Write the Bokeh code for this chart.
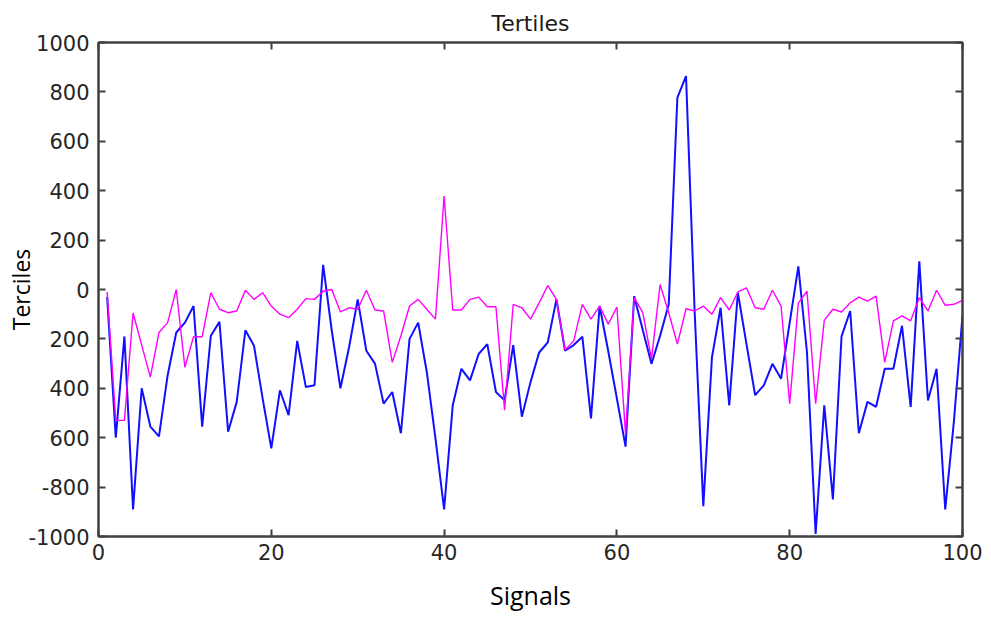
from bokeh.plotting import figure
from bokeh.models import LinearAxis, FixedTicker, Range1d
from bokeh.embed import file_html
from bokeh.resources import INLINE

# ---- data ----
signals = list(range(1, 101))

tercile_low = [
    -30, -600, -190, -890, -400, -555, -595, -348, -174, -134,
    -67, -555, -187, -131, -576, -455, -165, -228, -442, -643,
    -408, -509, -208, -395, -388, 100, -167, -400, -234, -40,
    -248, -300, -462, -415, -582, -200, -134, -335, -603, -890,
    -469, -321, -368, -261, -221, -415, -449, -225, -515, -375,
    -255, -214, -40, -248, -225, -191, -522, -67, -250, -442,
    -636, -27, -165, -301, -187, -60, 777, 864, -90, -877,
    -275, -74, -469, -13, -221, -428, -388, -301, -361, -134,
    94, -254, -990, -469, -850, -190, -87, -582, -455, -475,
    -321, -321, -147, -475, 114, -449, -321, -890, -536, -107,
]

tercile_high = [
    -10, -530, -530, -95, -225, -355, -174, -134, 0, -315,
    -191, -191, -13, -80, -94, -87, -3, -40, -13, -67,
    -100, -114, -80, -37, -40, -7, 0, -91, -74, -80,
    -3, -83, -87, -295, -187, -67, -40, -80, -120, 378,
    -83, -83, -40, -31, -70, -70, -489, -60, -74, -120,
    -54, 16, -40, -245, -208, -60, -120, -67, -140, -71,
    -585, -33, -94, -281, 20, -94, -221, -78, -87, -67,
    -100, -33, -83, -10, 7, -74, -80, -3, -67, -462,
    -55, -7, -462, -125, -80, -91, -54, -31, -47, -27,
    -295, -127, -107, -127, -33, -87, -3, -64, -60, -44,
]

x_ticks = [0, 20, 40, 60, 80, 100]
y_ticks = [-1000, -800, -600, -400, -200, 0, 200, 400, 600, 800, 1000]
y_tick_labels = ["-1000", "-800", "600", "400", "200", "0", "200", "400", "600", "800", "1000"]

title_text = "Tertiles"
x_label = "Signals"
y_label = "Terciles"

# ---- figure ----
p = figure(
    width=983, height=614,
    output_backend="svg", toolbar_location=None,
    x_range=Range1d(0, 100), y_range=Range1d(-1000, 1000),
    min_border_left=98, min_border_right=21, min_border_top=42, min_border_bottom=76,
    title=title_text,
)
p.background_fill_color = "white"
p.border_fill_color = "white"
p.outline_line_color = "#404040"
p.outline_line_width = 2
p.xgrid.visible = False
p.ygrid.visible = False

p.title.align = "center"
p.title.text_font = "DejaVu Sans"
p.title.text_font_size = "22px"
p.title.text_font_style = "normal"
p.title.text_color = "#1a1a1a"
p.title.standoff = 14

axis_col = "#404040"
lbl_col = "#262626"

def style_axis(ax, ticks, show_labels):
    ax.ticker = FixedTicker(ticks=ticks)
    ax.axis_line_color = axis_col
    ax.axis_line_width = 2
    ax.major_tick_line_color = axis_col
    ax.major_tick_line_width = 2
    ax.major_tick_in = 7
    ax.major_tick_out = 0
    ax.minor_tick_line_color = None
    if show_labels:
        ax.major_label_text_font = "DejaVu Sans"
        ax.major_label_text_font_size = "21px"
        ax.major_label_text_color = lbl_col
        ax.major_label_standoff = 9
    else:
        ax.major_label_text_font_size = "1px"
        ax.major_label_text_color = None
        ax.major_label_standoff = 0

xa = p.xaxis[0]
ya = p.yaxis[0]
style_axis(xa, x_ticks, True)
style_axis(ya, y_ticks, True)
xa.major_label_standoff = 7
ya.major_label_overrides = {t: s for t, s in zip(y_ticks, y_tick_labels)}

xa.axis_label = x_label
xa.axis_label_text_font = "Open Sans"
xa.axis_label_text_font_size = "25px"
xa.axis_label_text_font_style = "normal"
xa.axis_label_text_color = "black"
xa.axis_label_standoff = 15

ya.axis_label = y_label
ya.axis_label_text_font = "Open Sans"
ya.axis_label_text_font_size = "23px"
ya.axis_label_text_font_style = "normal"
ya.axis_label_text_color = "black"
ya.axis_label_standoff = -12

top_ax = LinearAxis()
style_axis(top_ax, x_ticks, False)
p.add_layout(top_ax, "above")
right_ax = LinearAxis()
style_axis(right_ax, y_ticks, False)
p.add_layout(right_ax, "right")

p.line(signals, tercile_low, line_color="#1010ff", line_width=2)
p.line(signals, tercile_high, line_color="#ff00ff", line_width=1.4)

open("out.html", "w").write(file_html(p, INLINE))
